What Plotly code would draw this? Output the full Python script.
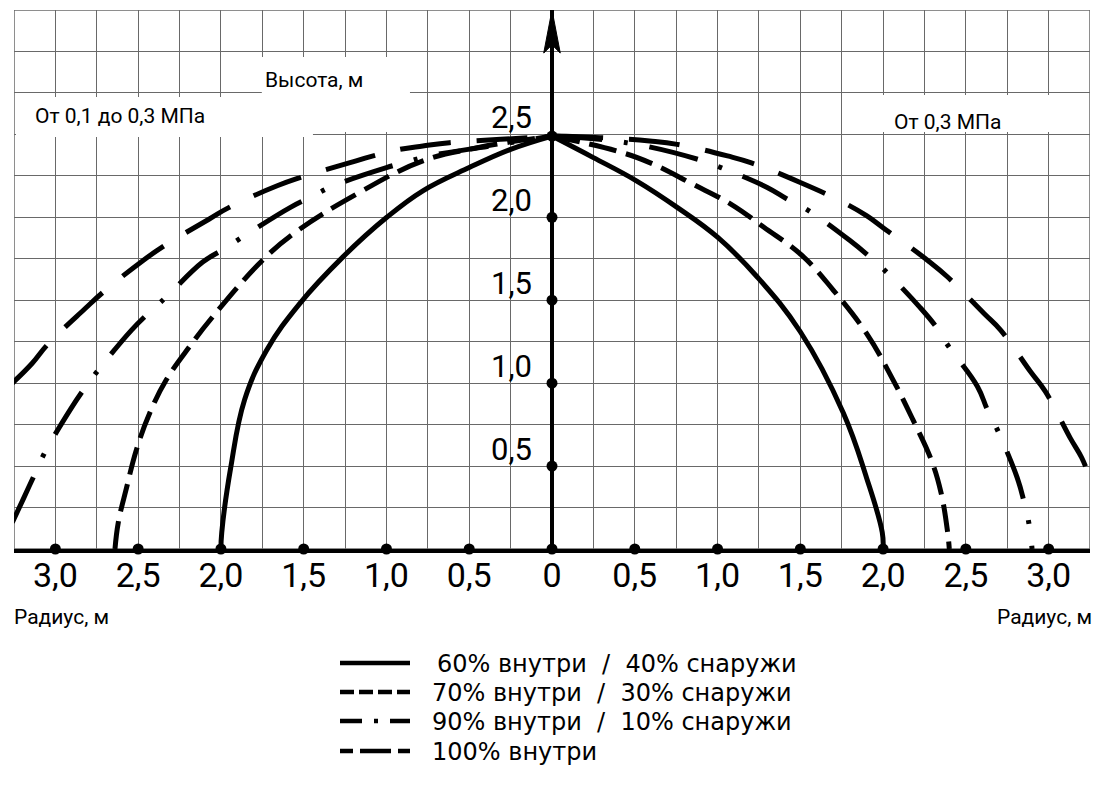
import plotly.graph_objects as go

# ---------------- data (radius in m, height in m) ----------------
# left half: "От 0,1 до 0,3 МПа", right half: "От 0,3 МПа"
series_names = [
    "60% внутри  /  40% снаружи",
    "70% внутри  /  30% снаружи",
    "90% внутри  /  10% снаружи",
    "100% внутри",
]

s60_left_r = [2.00, 1.995, 1.941, 1.857, 1.723, 1.524, 1.264, 0.998, 0.78, 0.50, 0.25, 0.0]
s60_left_h = [0.00, 0.10, 0.49, 0.90, 1.20, 1.48, 1.76, 2.00, 2.16, 2.30, 2.41, 2.49]
s60_right_r = [0.0, 0.25, 0.51, 0.756, 1.00, 1.24, 1.50, 1.76, 1.90, 1.995, 2.00]
s60_right_h = [2.49, 2.36, 2.22, 2.06, 1.88, 1.64, 1.31, 0.82, 0.43, 0.10, 0.00]

s70_left_r = [2.64, 2.62, 2.57, 2.51, 2.43, 2.33, 2.19, 2.05, 1.75, 1.55, 1.18, 0.78, 0.45, 0.0]
s70_left_h = [0.00, 0.16, 0.37, 0.60, 0.82, 1.02, 1.22, 1.40, 1.74, 1.91, 2.14, 2.34, 2.42, 2.49]
s70_right_r = [0.0, 0.39, 0.59, 0.85, 1.08, 1.28, 1.51, 1.70, 1.90, 2.06, 2.18, 2.29, 2.35, 2.39, 2.40]
s70_right_h = [2.49, 2.40, 2.33, 2.20, 2.08, 1.94, 1.77, 1.56, 1.30, 1.02, 0.78, 0.54, 0.34, 0.10, 0.00]

s90_left_r = [3.26, 3.19, 3.13, 3.07, 2.91, 2.83, 2.74, 2.54, 2.44, 2.33, 2.11, 1.98, 1.84, 1.58,
              1.46, 1.32, 1.00, 0.89, 0.74, 0.375, 0.0]
s90_left_h = [0.16, 0.31, 0.44, 0.57, 0.84, 0.96, 1.08, 1.32, 1.42, 1.52, 1.73, 1.81, 1.90, 2.06,
              2.12, 2.19, 2.30, 2.33, 2.37, 2.43, 2.49]
s90_right_r = [0.0, 0.45, 0.88, 1.02, 1.30, 1.42, 1.55, 1.80, 1.91, 2.01, 2.22, 2.32, 2.39, 2.57,
               2.63, 2.69, 2.81, 2.85, 2.88, 2.90]
s90_right_h = [2.49, 2.45, 2.35, 2.30, 2.18, 2.11, 2.04, 1.86, 1.77, 1.68, 1.46, 1.34, 1.23, 0.98,
               0.84, 0.72, 0.43, 0.29, 0.16, 0.00]

s100_left_r = [3.26, 3.14, 3.05, 2.82, 2.71, 2.47, 2.34, 2.07, 1.95, 1.66, 1.52, 1.22, 1.08, 0.92,
               0.78, 0.62, 0.31, 0.0]
s100_left_h = [1.00, 1.12, 1.23, 1.45, 1.55, 1.74, 1.83, 1.99, 2.06, 2.19, 2.24, 2.33, 2.37, 2.41,
               2.43, 2.45, 2.47, 2.49]
s100_right_r = [0.0, 0.29, 0.59, 0.756, 1.06, 1.20, 1.50, 1.74, 1.90, 2.01, 2.27, 2.39, 2.61, 2.71,
                2.89, 2.98, 3.13, 3.20, 3.26]
s100_right_h = [2.49, 2.48, 2.46, 2.44, 2.37, 2.33, 2.21, 2.10, 2.01, 1.93, 1.74, 1.64, 1.42, 1.32,
                1.07, 0.95, 0.67, 0.55, 0.40]

# axis ticks
x_tick_vals = [-3.0, -2.5, -2.0, -1.5, -1.0, -0.5, 0.0, 0.5, 1.0, 1.5, 2.0, 2.5, 3.0]
x_tick_text = ["3,0", "2,5", "2,0", "1,5", "1,0", "0,5", "0", "0,5", "1,0", "1,5", "2,0", "2,5", "3,0"]
y_tick_vals = [0.5, 1.0, 1.5, 2.0, 2.5]
y_tick_text = ["0,5", "1,0", "1,5", "2,0", "2,5"]
y_dot_vals = [0.5, 1.0, 1.5, 2.0, 2.49]

# ---------------- styles ----------------
dashes = ["solid", "28px,10px", "50px,22px,4px,22px", "51px,26px"]
legend_dashes = ["solid", "14px,5px", "22px,12px,4px,12px,22px", "13px,7px,31px,7px,12px"]

def full_curve(lr, lh, rr, rh):
    # left half (negative radius) and right half, split at the apex so it stays pointed
    x = [-r for r in lr] + [None] + list(rr)
    y = list(lh) + [None] + list(rh)
    return x, y

curves = [
    full_curve(s60_left_r, s60_left_h, s60_right_r, s60_right_h),
    full_curve(s70_left_r, s70_left_h, s70_right_r, s70_right_h),
    full_curve(s90_left_r, s90_left_h, s90_right_r, s90_right_h),
    full_curve(s100_left_r, s100_left_h, s100_right_r, s100_right_h),
]

fig = go.Figure()
for name, (cx, cy), dash in zip(series_names, curves, dashes):
    fig.add_trace(go.Scatter(
        x=cx, y=cy, mode="lines", name=name, showlegend=False, connectgaps=False,
        line=dict(color="black", width=5, dash=dash, shape="spline", smoothing=1.15),
    ))

# axis dots
fig.add_trace(go.Scatter(
    x=x_tick_vals + [0.0] * len(y_dot_vals),
    y=[0.0] * len(x_tick_vals) + y_dot_vals,
    mode="markers", marker=dict(color="black", size=11),
    showlegend=False, cliponaxis=False, hoverinfo="skip",
))

GRID = "rgb(105,105,105)"
fig.update_layout(
    width=1098, height=787,
    margin=dict(l=14, r=8, t=10, b=238),
    paper_bgcolor="white", plot_bgcolor="white",
    showlegend=False,
    font=dict(family="Roboto", color="black"),
    xaxis=dict(
        range=[-3.25, 3.25], tickmode="array", tickvals=x_tick_vals, ticktext=x_tick_text,
        tickfont=dict(family="Roboto", size=34, color="black"), ticks="",
        ticklabelstandoff=-7,
        showgrid=True, gridcolor=GRID, gridwidth=1.3,
        minor=dict(tickmode="linear", tick0=0, dtick=0.25, showgrid=True, gridcolor=GRID, gridwidth=1.3),
        zeroline=True, zerolinecolor="black", zerolinewidth=4,
        showline=True, linecolor="black", linewidth=4,
        fixedrange=True,
    ),
    yaxis=dict(
        range=[0, 3.25], tickmode="linear", tick0=0, dtick=0.25,
        showticklabels=False, ticks="",
        showgrid=True, gridcolor=GRID, gridwidth=1.3,
        zeroline=False, showline=False, fixedrange=True,
    ),
)

shapes = [
    # plot border
    dict(type="rect", xref="x", yref="y", x0=-3.25, x1=3.25, y0=0, y1=3.25,
         line=dict(color=GRID, width=1.5), layer="below"),
    # white label boxes
    dict(type="rect", xref="x", yref="y", x0=-3.238, x1=-1.444, y0=2.484, y1=2.725,
         fillcolor="white", line=dict(width=0), layer="between"),
    dict(type="rect", xref="x", yref="y", x0=-1.753, x1=-0.858, y0=2.514, y1=2.966,
         fillcolor="white", line=dict(width=0), layer="between"),
    dict(type="rect", xref="x", yref="y", x0=1.770, x1=3.238, y0=2.514, y1=2.737,
         fillcolor="white", line=dict(width=0), layer="between"),
    # arrow head on the height axis
    dict(type="path", xref="x", yref="y",
         path="M 0,3.25 L -0.05,2.99 L 0,3.04 L 0.05,2.99 Z",
         fillcolor="black", line=dict(color="black", width=1), layer="above"),
]

annotations = []
for v, t in zip(y_tick_vals, y_tick_text):
    annotations.append(dict(x=0, y=v, xref="x", yref="y", text=t, showarrow=False,
                            xanchor="center", yanchor="middle", xshift=-41, yshift=17,
                            font=dict(family="Roboto", size=31, color="black")))

def px_x(px):
    return (px - 14) / 1076.0

def px_y(py):
    return (549 - py) / 539.0

label_font = dict(family="Roboto", size=21, color="black")
annotations += [
    dict(x=px_x(314), y=px_y(80), xref="paper", yref="paper", text="Высота, м",
         showarrow=False, xanchor="center", yanchor="middle", font=label_font),
    dict(x=px_x(120), y=px_y(116), xref="paper", yref="paper", text="От 0,1 до 0,3 МПа",
         showarrow=False, xanchor="center", yanchor="middle", font=label_font),
    dict(x=px_x(947), y=px_y(122), xref="paper", yref="paper", text="От 0,3 МПа",
         showarrow=False, xanchor="center", yanchor="middle", font=label_font),
    dict(x=px_x(12), y=px_y(617), xref="paper", yref="paper", text="Радиус, м",
         showarrow=False, xanchor="left", yanchor="middle", font=label_font),
    dict(x=px_x(1094), y=px_y(617), xref="paper", yref="paper", text="Радиус, м",
         showarrow=False, xanchor="right", yanchor="middle", font=label_font),
]

# hand-placed legend (line samples + labels)
legend_rows_py = [663, 692, 721, 751]
legend_text_px = [435, 430, 430, 430]
for name, dash, py, tx in zip(series_names, legend_dashes, legend_rows_py, legend_text_px):
    shapes.append(dict(type="line", xref="paper", yref="paper",
                       x0=px_x(340), x1=px_x(410), y0=px_y(py), y1=px_y(py),
                       line=dict(color="black", width=4.5, dash=dash)))
    annotations.append(dict(x=px_x(tx), y=px_y(py + 1), xref="paper", yref="paper",
                            text=name.replace(" ", "\u00a0"), showarrow=False,
                            xanchor="left", yanchor="middle",
                            font=dict(family="DejaVu Sans", size=24, color="black")))

fig.update_layout(shapes=shapes, annotations=annotations)
fig.write_html("out.html", config={"displayModeBar": False},
               post_script="document.body.style.margin='0';")
